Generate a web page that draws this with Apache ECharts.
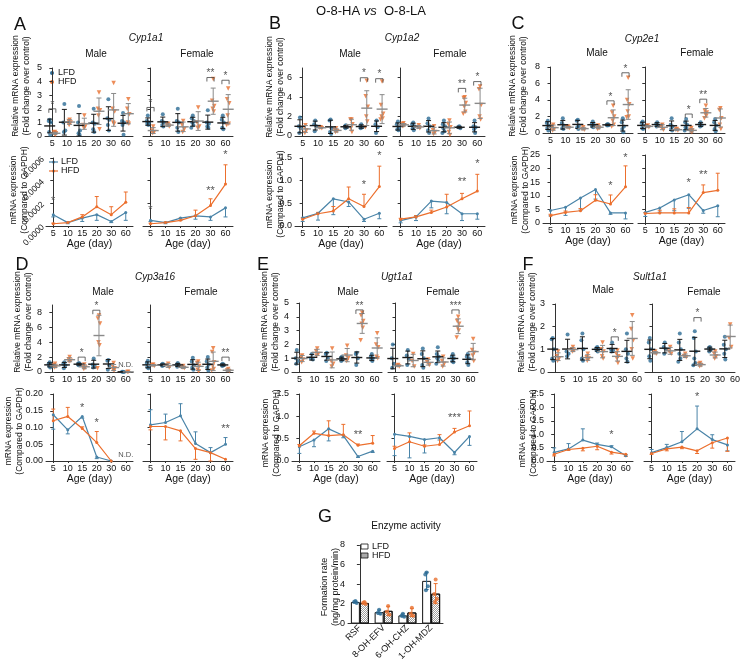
<!DOCTYPE html>
<html><head><meta charset="utf-8">
<script src="https://cdn.jsdelivr.net/npm/echarts@6/dist/echarts.min.js"></script>
<style>html,body{margin:0;padding:0;background:#fff}#c{width:743px;height:663px}</style>
</head><body><div id="c"></div>
<script>
// ---------------- DATA ----------------
const ages = ['5','10','15','20','30','60'];
// Relative mRNA expression (fold change), individual animals per age group
const A_M_LFD = [[1.2,1.1,1.0,0.3,0.1],[2.35,1.0,0.4,0.3],[2.2,1.0,0.4,0.2,0.1],[2.0,1.0,0.9,0.5,0.3],[2.7,1.3,1.2,0.8,0.4],[1.7,1.1,1.0,0.8,0.1]];
const A_M_HFD = [[0.3,0.25,0.2,0.15,0.1],[1.2,1.1,1.0,0.8],[1.5,0.8,0.7,0.6],[3.2,2.0,1.9,1.5,0.5],[3.9,2.0,1.8,1.0,0.9],[2.7,2.0,1.6,1.0,0.9]];
const A_F_LFD = [[1.5,1.1,1.0,0.9,0.8],[1.6,1.1,1.0,0.8,0.7],[2.0,1.1,1.0,0.6,0.3],[1.5,1.3,1.1,1.0,0.8,0.6],[1.9,1.0,0.9,0.7,0.6],[1.5,1.2,1.0,0.6,0.5]];
const A_F_HFD = [[0.7,0.4,0.3,0.2],[0.9,0.8,0.7],[1.1,0.8,0.5,0.3],[2.1,1.0,0.7,0.6],[4.2,2.6,2.2,2.0,1.8],[3.5,2.7,2.4,1.5,0.9,0.8]];
const B_M_LFD = [[1.9,1.0,0.8,0.3],[1.6,1.2,1.0,0.5],[1.7,1.6,0.8,0.4,0.2],[1.1,1.0,0.9,0.8],[1.2,1.0,0.9,0.8],[1.6,1.2,0.9,0.3]];
const B_M_HFD = [[1.1,0.9,0.6,0.3],[0.9,0.85,0.8],[0.8,0.6,0.5,0.4],[1.7,1.7,1.2,0.8,0.4],[5.7,4.1,3.0,2.0,1.5,0.9],[5.6,3.2,2.3,2.0,1.8,1.7]];
const B_F_LFD = [[1.5,1.2,0.9,0.7,0.6],[1.4,1.2,1.0,0.8,0.6],[1.8,1.3,1.0,0.6,0.3],[1.6,1.2,1.0,0.8,0.5,0.3],[1.0,0.9,0.8],[1.6,1.0,0.9,0.7,0.3]];
const B_F_HFD = [[1.3,1.2,1.1,1.0],[1.1,0.9,0.8],[1.0,0.6,0.4,0.2],[1.6,1.2,0.9,0.4,0.1],[4.0,3.9,3.4,3.0,2.5,2.3],[5.1,4.8,3.2,2.0,1.7]];
const C_M_LFD = [[1.5,1.2,0.9,0.6,0.3],[1.8,1.2,0.9,0.6,0.5],[1.6,1.5,0.9,0.7,0.5],[1.4,1.1,1.0,0.8,0.7],[1.1,1.0,0.95,0.9],[1.8,1.3,0.8,0.5,0.1]];
const C_M_HFD = [[1.0,0.8,0.5,0.3],[0.8,0.7,0.6],[0.7,0.5,0.4],[0.9,0.8,0.6,0.5],[3.3,2.5,2.0,1.5,1.0,0.8],[6.7,4.0,3.5,2.6,2.0,1.9]];
const C_F_LFD = [[1.4,1.2,0.9,0.6,0.5],[1.3,1.1,0.9,0.8],[1.8,1.0,0.8,0.5,0.3],[1.7,1.3,1.0,0.7,0.5,0.3],[1.3,1.1,0.9,0.8],[1.7,1.3,0.9,0.5,0.2]];
const C_F_HFD = [[0.9,0.8,0.7],[1.0,0.7,0.4],[0.5,0.4,0.3],[0.6,0.4,0.3,0.2,0.1],[3.3,2.7,2.5,2.3,2.1,1.8],[3.0,2.8,1.8,1.0,0.5]];
const D_M_LFD = [[1.3,1.1,1.0,0.8,0.6],[1.3,1.1,0.9,0.5],[1.2,1.1,1.0,0.9],[1.8,1.0,0.8,0.6],[1.6,1.5,0.9,0.3],[0.05,0.02,0]];
const D_M_HFD = [[1.1,0.9,0.7,0.6],[2.0,1.7,1.5,1.4],[1.0,0.8,0.6,0.4],[7.6,7.2,6.5,4.0,3.6,0.5],[1.2,0.8,0.5,0.3,0.2],[0.03,0]];
const D_F_LFD = [[1.5,1.2,0.9,0.7,0.5],[1.1,1.0,0.9,0.8],[1.2,1.0,0.9,0.7],[1.9,1.4,0.9,0.6,0.3],[2.0,1.4,1.0,0.6,0.2],[1.1,1.0,0.9,0.8]];
const D_F_HFD = [[1.0,0.9,0.8],[1.1,0.9,0.6],[0.8,0.6,0.5],[1.4,1.2,0.8,0.3,0.1],[3.2,2.7,1.3,0.8,0.4,0.2],[0.4,0.2,0.1]];
const E_M_LFD = [[1.6,1.0,0.8,0.6],[1.3,1.0,0.9],[1.4,1.3,1.0,0.8],[1.1,1.0,0.9,0.8],[1.4,1.3,1.0,0.5],[1.3,1.1,1.0,0.9,0.8]];
const E_M_HFD = [[1.2,1.1,0.9,0.7],[1.7,1.5,1.3,1.2],[1.7,0.8,0.6,0.4],[1.9,1.2,1.0,0.8],[4.3,4.1,3.7,3.5,3.2,2.3],[2.8,2.0,1.8,1.1,1.0]];
const E_F_LFD = [[2.0,1.0,0.6,0.3],[1.6,1.2,0.9,0.5],[1.7,1.3,1.0,0.5,0.3],[1.8,1.3,1.1,1.0,0.8,0.6],[1.3,1.1,1.0,0.8,0.7],[1.3,1.1,1.0,0.7,0.5]];
const E_F_HFD = [[0.5,0.45,0.4],[1.3,0.8,0.4],[0.9,0.7,0.5],[1.1,0.8,0.6,0.4],[4.0,3.7,3.5,3.2,3.0,2.5],[2.4,1.6,1.4,1.2,0.8]];
const F_M_LFD = [[1.5,1.45,1.0,0.6,0.5],[1.65,0.9,0.8,0.7],[1.7,1.4,1.0,0.6,0.5],[1.1,1.05,1.0,0.95,0.9],[1.3,1.0,0.95,0.9],[1.7,1.0,0.8,0.6,0.45]];
const F_M_HFD = [[0.9,0.7,0.6,0.5],[1.1,1.0,0.95,0.9],[0.8,0.65,0.6,0.5],[1.3,1.0,0.9,0.7,0.6],[0.95,0.8,0.7,0.6,0.4],[2.5,1.9,1.4,1.0,0.6]];
const F_F_LFD = [[1.5,1.3,1.0,0.7,0.5],[1.3,1.1,1.0,0.8],[1.7,1.3,1.0,0.8,0.6,0.45],[1.8,1.5,0.9,0.6,0.4,0.3],[1.1,1.05,1.0,0.9],[1.55,1.2,1.0,0.8,0.55]];
const F_F_HFD = [[0.9,0.85,0.8],[1.1,0.9,0.8],[0.8,0.7,0.65],[0.4,0.35,0.3,0.25],[0.9,0.8,0.7,0.6],[2.1,1.5,1.1]];

// Significance marks: [age index, level, label]
const A_M_sigT = [[0,2.0,'*']], A_F_sigT = [[0,2.1,'*'],[4,4.3,'**'],[5,4.1,'*']];
const B_M_sigT = [[4,6.0,'*'],[5,5.9,'*']], B_F_sigT = [[4,4.9,'**'],[5,5.6,'*']];
const C_M_sigT = [[4,3.9,'*'],[5,7.3,'*']], C_F_sigT = [[3,2.3,'*'],[4,4.1,'**']];
const D_M_sigT = [[2,2.0,'*'],[3,8.3,'*']], D_F_sigT = [[5,2.0,'**']];
const E_M_sigT = [[4,4.5,'**']], E_F_sigT = [[4,4.5,'***']];
const F_M_sigT = [[4,1.55,'*']], F_F_sigT = [[3,2.4,'*']];

// mRNA expression compared to GAPDH: group means and error (signed: + up, - down)
const A_M_LFD_m = [0.0001,0.00003,0.00007,0.0001,0.00004,0.00012], A_M_LFD_e = [-0.00002,-0.00001,-0.00003,-0.00005,-0.00001,-0.00007];
const A_M_HFD_m = [0.00002,0.00003,0.00008,0.00017,0.0001,0.00021], A_M_HFD_e = [0.000005,0.000005,0.00002,0.00009,0.00007,0.00009];
const A_F_LFD_m = [0.00005,0.00003,0.00007,0.00009,0.00008,0.00016], A_F_LFD_e = [-0.00001,-0.00001,-0.00002,-0.00003,-0.00003,-0.00008];
const A_F_HFD_m = [0.00002,0.00003,0.00005,0.00009,0.00018,0.00037], A_F_HFD_e = [0.000005,0.000005,0.00002,0.00005,0.00006,0.00017];
const B_M_LFD_m = [0.18,0.28,0.6,0.53,0.15,0.28], B_M_LFD_e = [-0.08,-0.15,-0.35,-0.1,-0.05,-0.12];
const B_M_HFD_m = [0.15,0.27,0.33,0.6,0.43,0.87], B_M_HFD_e = [0.03,0.03,0.1,0.26,0.27,0.45];
const B_F_LFD_m = [0.12,0.2,0.55,0.52,0.27,0.27], B_F_LFD_e = [-0.05,-0.08,-0.15,-0.25,-0.15,-0.12];
const B_F_HFD_m = [0.15,0.2,0.3,0.42,0.6,0.77], B_F_HFD_e = [0.02,0.03,0.05,0.28,0.12,0.37];
const C_M_LFD_m = [4.6,5.8,9.2,12.3,3.7,3.7], C_M_LFD_e = [-2,-3,-4.5,-3.5,-0.5,-2.2];
const C_M_HFD_m = [2.7,3.9,4.5,8.4,7.0,13.3], C_M_HFD_e = [0.5,0.5,0.8,2,3.3,7.7];
const C_F_LFD_m = [3.9,5.5,8.5,10.4,4.6,6.3], C_F_LFD_e = [-1.5,-1.5,-4,-5,-1,-4];
const C_F_HFD_m = [3.5,3.7,3.7,3.7,11.2,12], C_F_HFD_e = [0.3,1,1.5,2,2.8,6.3];
const D_M_LFD_m = [0.138,0.093,0.133,0.012,0,null], D_M_LFD_e = [-0.043,-0.012,-0.005,-0.005,0,0];
const D_M_HFD_m = [0.12,0.133,0.097,0.055,0,null], D_M_HFD_e = [0.035,0.027,0.005,0.033,0,0];
const D_F_LFD_m = [0.108,0.115,0.135,0.052,0.025,0.05], D_F_LFD_e = [0.045,0.025,0.036,0.035,0.015,0.02];
const D_F_HFD_m = [0.103,0.103,0.09,0.037,0.025,0.005], D_F_HFD_e = [-0.01,-0.04,-0.03,-0.032,-0.025,0];
const E_M_LFD_m = [0.32,0.47,0.72,0.57,0.1,0.22], E_M_LFD_e = [-0.15,-0.15,-0.27,-0.05,-0.02,-0.03];
const E_M_HFD_m = [0.34,0.62,0.57,0.59,0.35,0.4], E_M_HFD_e = [0.03,0.05,0.33,0.23,0.03,0.17];
const E_F_LFD_m = [0.6,0.55,0.48,0.52,0.19,0.55], E_F_LFD_e = [-0.48,-0.48,-0.3,-0.05,-0.05,-0.2];
const E_F_HFD_m = [0.28,0.43,0.33,0.37,0.65,0.79], E_F_HFD_e = [0.05,0.2,0.03,0.22,0.08,0.33];
const F_M_LFD_m = [0.32,0.45,0.78,0.62,0.53,0.2], F_M_LFD_e = [0.17,0.2,0.42,0.05,0.04,0.03];
const F_M_HFD_m = [0.25,0.43,0.48,0.55,0.33,0.25], F_M_HFD_e = [-0.06,-0.03,-0.1,-0.13,-0.07,-0.08];
const F_F_LFD_m = [0.31,0.5,0.72,1.2,0.8,0.6], F_F_LFD_e = [0.12,0.12,0.38,0.85,0.18,-0.22];
const F_F_HFD_m = [0.28,0.45,0.52,0.38,0.68,0.86], F_F_HFD_e = [-0.03,-0.07,-0.06,-0.1,-0.2,-0.5];

const A_M_sigB = [[0,0.00017,'*']], A_F_sigB = [[0,0.00009,'*'],[4,0.00026,'**'],[5,0.00058,'*']];
const B_M_sigB = [[4,0.78,'*'],[5,1.42,'*']], B_F_sigB = [[4,0.86,'**'],[5,1.25,'*']];
const C_M_sigB = [[4,11.5,'*'],[5,22,'*']], C_F_sigB = [[3,12.8,'*'],[4,15.5,'**']];
const D_M_sigB = [[2,0.143,'*'],[3,0.098,'*']], D_F_sigB = [[5,0.078,'**']];
const E_M_sigB = [[4,0.47,'**']], E_F_sigB = [[4,0.85,'***']];
const F_M_sigB = [[4,0.78,'*']], F_F_sigB = [[3,2.2,'*']];
const D_M_ndT = [[5,0.4,'N.D.']], D_M_ndB = [[5,0.006,'N.D.']];

// Enzyme activity (ng/mg protein/min)
const G_cats = ['RSF','8-OH-EFV','6-OH-CHZ','1-OH-MDZ'];
const G_LFD = [[2.3,2.2,2.1],[1.4,1.1,1.0],[1.0,0.8,0.7],[5.2,5.0,3.8,3.4]];
const G_HFD = [[2.2,2.1,2.0],[1.8,1.2,0.9],[1.6,1.0,0.8],[4.5,3.0,2.5,2.2]];

// ---------------- BUILD ----------------
const FONT = '"Liberation Sans", Arial, sans-serif';
const C_L = '#2c6b95', C_H = '#e8712f';
const CL_LINE = '#4a84a8', CH_LINE = '#ec6f2d';
const JIT = [0, -0.07, 0.07, -0.035, 0.035, -0.1, 0.1];
const grid = [], xAxis = [], yAxis = [], series = [], graphic = [];
const mean = a => a.reduce((s, v) => s + v, 0) / a.length;
const sd = a => { if (a.length < 2) return 0; const m = mean(a); return Math.sqrt(a.reduce((s, v) => s + (v - m) * (v - m), 0) / (a.length - 1)); };

function xCfg(g, shifted, ticks, name) {
  const vals = shifted ? [0.5, 1.5, 2.5, 3.5, 4.5, 5.5] : [0, 1, 2, 3, 4, 5];
  return { type: 'value', gridIndex: g, min: -0.5, max: 5.5,
    name: name || '', nameLocation: 'middle', nameGap: 11,
    nameTextStyle: { fontSize: 10.5, fontFamily: FONT, color: '#111' },
    axisLine: { show: true, onZero: false, lineStyle: { color: '#333', width: 1 } },
    axisTick: { show: ticks, customValues: vals, length: 2, lineStyle: { color: '#333' } },
    axisLabel: { show: true, customValues: vals, formatter: v => ages[Math.round(shifted ? v - 0.5 : v)], fontSize: 9, fontFamily: FONT, color: '#111', margin: 3 },
    splitLine: { show: false } };
}
function yCfg(g, yc, showLabel) {
  return { type: 'value', gridIndex: g, min: 0, max: yc.max,
    axisLine: { show: true, lineStyle: { color: '#333', width: 1 } },
    axisTick: { show: true, customValues: yc.ticks, length: 3, lineStyle: { color: '#333' } },
    axisLabel: { show: showLabel, customValues: yc.ticks, formatter: yc.fmt, rotate: yc.rot || 0, fontSize: yc.fs || 9, fontFamily: FONT, color: '#111', margin: 3 },
    splitLine: { show: false } };
}
function meanSdSeries(g, data) {
  return { type: 'custom', xAxisIndex: g, yAxisIndex: g, data, clip: false, z: 4, silent: true,
    renderItem: (p, api) => {
      const x = api.value(0), m = api.value(1), s = api.value(2), k = api.value(3);
      const c = api.coord([x, m]), t = api.coord([x, m + s]), b = api.coord([x, Math.max(0, m - s)]);
      const col = k === 0 ? '#1a1a1a' : '#8a8a8a';
      const st = { stroke: col, lineWidth: 1 };
      return { type: 'group', children: [
        { type: 'line', shape: { x1: c[0], y1: t[1], x2: c[0], y2: b[1] }, style: st },
        { type: 'line', shape: { x1: c[0] - 5.5, y1: c[1], x2: c[0] + 5.5, y2: c[1] }, style: { stroke: col, lineWidth: 1.4 } },
        { type: 'line', shape: { x1: c[0] - 2.5, y1: t[1], x2: c[0] + 2.5, y2: t[1] }, style: st },
        { type: 'line', shape: { x1: c[0] - 2.5, y1: b[1], x2: c[0] + 2.5, y2: b[1] }, style: st }
      ] };
    } };
}
function sigSeries(g, list, bracket, fs) {
  return { type: 'custom', xAxisIndex: g, yAxisIndex: g, clip: false, silent: true, z: 6,
    data: list.map(s => [s[0], s[1]]),
    renderItem: (p, api) => {
      const s = list[p.dataIndex];
      const c = api.coord([s[0], s[1]]);
      const ch = [];
      if (bracket) {
        const l = api.coord([s[0] - 0.24, s[1]])[0], r = api.coord([s[0] + 0.24, s[1]])[0];
        ch.push({ type: 'polyline', shape: { points: [[l, c[1] + 4], [l, c[1]], [r, c[1]], [r, c[1] + 4]] }, style: { stroke: '#444', fill: null, lineWidth: 0.8 } });
      }
      ch.push({ type: 'text', x: c[0], y: bracket ? c[1] + 1 : c[1], style: { text: s[2], align: 'center', verticalAlign: 'bottom', fontSize: fs || 10, fontFamily: FONT, fill: '#555' } });
      return { type: 'group', children: ch };
    } };
}
function errSeries(g, m, e, col) {
  const data = [];
  m.forEach((v, i) => { if (v != null && e[i]) data.push([i, v, e[i]]); });
  return { type: 'custom', xAxisIndex: g, yAxisIndex: g, data, clip: false, silent: true, z: 2,
    renderItem: (p, api) => {
      const x = api.value(0), v = api.value(1), er = api.value(2);
      const a = api.coord([x, v]), b = api.coord([x, Math.max(0, v + er)]);
      return { type: 'group', children: [
        { type: 'line', shape: { x1: a[0], y1: a[1], x2: b[0], y2: b[1] }, style: { stroke: col, lineWidth: 1 } },
        { type: 'line', shape: { x1: b[0] - 2, y1: b[1], x2: b[0] + 2, y2: b[1] }, style: { stroke: col, lineWidth: 1 } }
      ] };
    } };
}
function addScatter(r, lfd, hfd, sig, yc, showY, shifted, nd) {
  grid.push({ left: r[0], top: r[1], width: r[2], height: r[3] });
  const g = grid.length - 1;
  xAxis.push(xCfg(g, shifted, false, ''));
  yAxis.push(yCfg(g, yc, showY));
  const pts = (arr, off) => { const o = []; arr.forEach((grp, i) => grp.forEach((v, j) => o.push([i + off + JIT[j % JIT.length], v]))); return o; };
  series.push({ type: 'scatter', name: 'LFD', xAxisIndex: g, yAxisIndex: g, data: pts(lfd, -0.18), symbol: 'circle', symbolSize: 4, itemStyle: { color: C_L }, clip: false, z: 3, silent: true });
  series.push({ type: 'scatter', name: 'HFD', xAxisIndex: g, yAxisIndex: g, data: pts(hfd, 0.18), symbol: 'triangle', symbolRotate: 180, symbolSize: 4.5, itemStyle: { color: C_H }, clip: false, z: 3, silent: true });
  const st = (arr, off, k) => arr.map((grp, i) => [i + off, mean(grp), sd(grp), k]);
  series.push(meanSdSeries(g, st(lfd, -0.18, 0).concat(st(hfd, 0.18, 1))));
  if (sig) series.push(sigSeries(g, sig, true));
  if (nd) series.push(sigSeries(g, nd, false, 7.5));
}
function addLine(r, lM, lE, hM, hE, sig, yc, showY, nd) {
  grid.push({ left: r[0], top: r[1], width: r[2], height: r[3] });
  const g = grid.length - 1;
  xAxis.push(xCfg(g, false, true, 'Age (day)'));
  yAxis.push(yCfg(g, yc, showY));
  const d = m => m.map((v, i) => [i, v == null ? '-' : v]);
  series.push(errSeries(g, lM, lE, CL_LINE));
  series.push(errSeries(g, hM, hE, CH_LINE));
  series.push({ type: 'line', name: 'LFD', xAxisIndex: g, yAxisIndex: g, data: d(lM), symbol: 'circle', symbolSize: 3, lineStyle: { width: 1.2, color: CL_LINE }, itemStyle: { color: CL_LINE }, z: 3, silent: true, clip: false });
  series.push({ type: 'line', name: 'HFD', xAxisIndex: g, yAxisIndex: g, data: d(hM), symbol: 'circle', symbolSize: 3, lineStyle: { width: 1.2, color: CH_LINE }, itemStyle: { color: CH_LINE }, z: 3, silent: true, clip: false });
  if (sig) series.push(sigSeries(g, sig, false, 11));
  if (nd) series.push(sigSeries(g, nd, false, 7.5));
}
const f1 = v => v.toFixed(1), f0 = v => String(v), f2 = v => v.toFixed(2), f4 = v => v.toFixed(4);
const YT = {
  A: { max: 5, ticks: [0,1,2,3,4,5], fmt: f0 }, B: { max: 7, ticks: [0,2,4,6], fmt: f0 }, C: { max: 8, ticks: [0,2,4,6,8], fmt: f0 },
  D: { max: 9, ticks: [0,2,4,6,8], fmt: f0 }, E: { max: 5, ticks: [0,1,2,3,4,5], fmt: f0 }, F: { max: 3, ticks: [0,1,2,3], fmt: f0 }
};
const YB = {
  A: { max: 0.0006, ticks: [0,0.0002,0.0004,0.0006], fmt: f4, rot: 45, fs: 8.5 }, B: { max: 1.5, ticks: [0,0.5,1,1.5], fmt: f1 },
  C: { max: 25, ticks: [0,5,10,15,20,25], fmt: f0 }, D: { max: 0.2, ticks: [0,0.05,0.1,0.15,0.2], fmt: f2 },
  E: { max: 1.5, ticks: [0,0.5,1,1.5], fmt: f1 }, F: { max: 2.5, ticks: [0,0.5,1,1.5,2,2.5], fmt: f1 }
};
const LAY = {
  A: { tM: [45,68,88,68], tF: [143,68,90,68], bM: [46,158,87,68], bF: [143,158,90,68] },
  B: { tM: [295,68,92,68], tF: [393,68,92,68], bM: [295,158,92,68], bF: [393,158,92,68] },
  C: { tM: [543,67,90,66], tF: [638,67,87,66], bM: [543,155,90,68], bF: [638,155,87,68] },
  D: { tM: [45,305,88,67], tF: [143,305,90,67], bM: [46,394,87,67], bF: [143,394,90,67] },
  E: { tM: [292,303,90,69], tF: [388,303,90,69], bM: [292,394,88,67], bF: [387,394,90,67] },
  F: { tM: [548,304,89,68], tF: [645,304,90,68], bM: [547,394,86,67], bF: [644,394,91,67] }
};
const P = {
  A: [A_M_LFD,A_M_HFD,A_F_LFD,A_F_HFD,A_M_sigT,A_F_sigT,[A_M_LFD_m,A_M_LFD_e,A_M_HFD_m,A_M_HFD_e],[A_F_LFD_m,A_F_LFD_e,A_F_HFD_m,A_F_HFD_e],A_M_sigB,A_F_sigB],
  B: [B_M_LFD,B_M_HFD,B_F_LFD,B_F_HFD,B_M_sigT,B_F_sigT,[B_M_LFD_m,B_M_LFD_e,B_M_HFD_m,B_M_HFD_e],[B_F_LFD_m,B_F_LFD_e,B_F_HFD_m,B_F_HFD_e],B_M_sigB,B_F_sigB],
  C: [C_M_LFD,C_M_HFD,C_F_LFD,C_F_HFD,C_M_sigT,C_F_sigT,[C_M_LFD_m,C_M_LFD_e,C_M_HFD_m,C_M_HFD_e],[C_F_LFD_m,C_F_LFD_e,C_F_HFD_m,C_F_HFD_e],C_M_sigB,C_F_sigB],
  D: [D_M_LFD,D_M_HFD,D_F_LFD,D_F_HFD,D_M_sigT,D_F_sigT,[D_M_LFD_m,D_M_LFD_e,D_M_HFD_m,D_M_HFD_e],[D_F_LFD_m,D_F_LFD_e,D_F_HFD_m,D_F_HFD_e],D_M_sigB,D_F_sigB],
  E: [E_M_LFD,E_M_HFD,E_F_LFD,E_F_HFD,E_M_sigT,E_F_sigT,[E_M_LFD_m,E_M_LFD_e,E_M_HFD_m,E_M_HFD_e],[E_F_LFD_m,E_F_LFD_e,E_F_HFD_m,E_F_HFD_e],E_M_sigB,E_F_sigB],
  F: [F_M_LFD,F_M_HFD,F_F_LFD,F_F_HFD,F_M_sigT,F_F_sigT,[F_M_LFD_m,F_M_LFD_e,F_M_HFD_m,F_M_HFD_e],[F_F_LFD_m,F_F_LFD_e,F_F_HFD_m,F_F_HFD_e],F_M_sigB,F_F_sigB]
};
Object.keys(P).forEach(k => {
  const p = P[k], l = LAY[k], sh = k === 'F';
  addScatter(l.tM, p[0], p[1], p[4], YT[k], true, sh, k === 'D' ? D_M_ndT : null);
  addScatter(l.tF, p[2], p[3], p[5], YT[k], false, sh, null);
  addLine(l.bM, p[6][0], p[6][1], p[6][2], p[6][3], p[8], YB[k], true, k === 'D' ? D_M_ndB : null);
  addLine(l.bF, p[7][0], p[7][1], p[7][2], p[7][3], p[9], YB[k], false, null);
});

// ---- Panel G: enzyme activity ----
grid.push({ left: 348, top: 545, width: 95, height: 80 });
const gG = grid.length - 1;
xAxis.push({ type: 'category', gridIndex: gG, data: G_cats,
  axisLine: { lineStyle: { color: '#333' } }, axisTick: { show: false },
  axisLabel: { interval: 0, rotate: 45, fontSize: 9, fontFamily: FONT, color: '#111', margin: 3 } });
const xG = xAxis.length - 1;
xAxis.push({ type: 'value', gridIndex: gG, min: -0.5, max: 3.5, show: false });
const xGv = xAxis.length - 1;
yAxis.push({ type: 'value', gridIndex: gG, min: 0, max: 8, interval: 2,
  axisLine: { show: true, lineStyle: { color: '#333' } }, axisTick: { show: true, length: 3 },
  axisLabel: { fontSize: 9, fontFamily: FONT, color: '#111', margin: 3 }, splitLine: { show: false } });
const yG = yAxis.length - 1;
const hatch = { symbol: 'rect', symbolSize: 1, color: 'rgba(80,80,80,0.55)', dashArrayX: [[1, 1], [0, 1, 1, 0]], dashArrayY: [1, 0] };
series.push({ type: 'bar', name: 'LFD', xAxisIndex: xG, yAxisIndex: yG, data: G_LFD.map(mean), barWidth: 9, barGap: '0%',
  itemStyle: { color: '#fff', borderColor: '#111', borderWidth: 1 }, silent: true, z: 2 });
series.push({ type: 'bar', name: 'HFD', xAxisIndex: xG, yAxisIndex: yG, data: G_HFD.map(mean), barWidth: 9, barGap: '0%',
  itemStyle: { color: '#fff', borderColor: '#111', borderWidth: 1, decal: hatch }, silent: true, z: 2 });
const gPts = (arr, off) => { const o = []; arr.forEach((grp, i) => grp.forEach((v, j) => o.push([i + off + JIT[j % JIT.length] * 0.8, v]))); return o; };
series.push({ type: 'custom', xAxisIndex: xGv, yAxisIndex: yG, clip: false, silent: true, z: 3,
  data: G_LFD.map((g, i) => [i - 0.19, mean(g), sd(g), 0]).concat(G_HFD.map((g, i) => [i + 0.19, mean(g), sd(g), 1])),
  renderItem: (p, api) => {
    const x = api.value(0), m = api.value(1), s = api.value(2), k = api.value(3);
    const t = api.coord([x, m + s]), b = api.coord([x, Math.max(0, m - s)]);
    const col = k === 0 ? C_L : C_H;
    const st = { stroke: col, lineWidth: 1 };
    return { type: 'group', children: [
      { type: 'line', shape: { x1: t[0], y1: t[1], x2: b[0], y2: b[1] }, style: st },
      { type: 'line', shape: { x1: t[0] - 2, y1: t[1], x2: t[0] + 2, y2: t[1] }, style: st },
      { type: 'line', shape: { x1: b[0] - 2, y1: b[1], x2: b[0] + 2, y2: b[1] }, style: st }
    ] };
  } });
series.push({ type: 'scatter', xAxisIndex: xGv, yAxisIndex: yG, data: gPts(G_LFD, -0.19), symbol: 'circle', symbolSize: 4, itemStyle: { color: C_L }, silent: true, z: 4 });
series.push({ type: 'scatter', xAxisIndex: xGv, yAxisIndex: yG, data: gPts(G_HFD, 0.19), symbol: 'circle', symbolSize: 4, itemStyle: { color: C_H }, silent: true, z: 4 });

// ---- texts ----
function txt(x, y, text, o) {
  o = o || {};
  graphic.push({ type: 'text', x, y, rotation: o.rot || 0, silent: true, z: 10,
    style: { text, fontSize: o.fs || 10, fontFamily: FONT, fontStyle: o.it ? 'italic' : 'normal', fill: o.col || '#111',
      align: o.al || 'center', verticalAlign: 'middle', lineHeight: o.lh || undefined, rich: o.rich } });
}
txt(371, 11, '{n|O-8-HA }{i|vs}{n|  O-8-LA}', { rich: { n: { fontSize: 13, fontFamily: FONT, fill: '#111' }, i: { fontSize: 13, fontFamily: FONT, fontStyle: 'italic', fill: '#111' } } });
[['A',20,25],['B',275,24],['C',518,24],['D',22,265],['E',263,265],['F',528,265],['G',325,517]].forEach(a => txt(a[1], a[2], a[0], { fs: 18 }));
[['Cyp1a1',146,38],['Cyp1a2',402,38],['Cyp2e1',642,39],['Cyp3a16',155,277],['Ugt1a1',397,277],['Sult1a1',650,277]].forEach(a => txt(a[1], a[2], a[0], { fs: 10, it: true }));
[[96,54,'Male'],[197,54,'Female'],[350,54,'Male'],[450,54,'Female'],[597,53,'Male'],[697,53,'Female'],
 [103,292,'Male'],[201,292,'Female'],[348,292,'Male'],[443,292,'Female'],[603,290,'Male'],[704,292,'Female']].forEach(a => txt(a[0], a[1], a[2], { fs: 10 }));
const TOPN = 'Relative mRNA expression\n(Fold change over control)', BOTN = 'mRNA expression\n(Compared to GAPDH)';
[[21,86,TOPN],[19,190,BOTN],[275,87,TOPN],[275,194,BOTN],[518,86,TOPN],[520,190,BOTN],
 [23,322,TOPN],[14,431,BOTN],[270,322,TOPN],[271,433,BOTN],[527,322,TOPN],[528,433,BOTN]].forEach(a => txt(a[0], a[1], a[2], { fs: 8.5, rot: Math.PI / 2, lh: 11 }));
// legends in panel A
graphic.push({ type: 'circle', shape: { cx: 52, cy: 73, r: 2 }, style: { fill: C_L }, silent: true });
graphic.push({ type: 'circle', shape: { cx: 52, cy: 82, r: 2 }, style: { fill: C_H }, silent: true });
txt(58, 73, 'LFD', { fs: 9, al: 'left' }); txt(58, 82, 'HFD', { fs: 9, al: 'left' });
[[162, CL_LINE, 'LFD'], [171, CH_LINE, 'HFD']].forEach(a => {
  graphic.push({ type: 'line', shape: { x1: 49, y1: a[0], x2: 58, y2: a[0] }, style: { stroke: a[1], lineWidth: 1.2 }, silent: true });
  graphic.push({ type: 'circle', shape: { cx: 53.5, cy: a[0], r: 1.5 }, style: { fill: a[1] }, silent: true });
  txt(61, a[0], a[2], { fs: 9, al: 'left' });
});
// panel G texts and legend
txt(406, 526, 'Enzyme activity', { fs: 10 });
txt(330, 587, 'Formation rate\n(ng/mg protein/min)', { fs: 9, rot: Math.PI / 2, lh: 11 });
graphic.push({ type: 'rect', shape: { x: 361, y: 544, width: 7, height: 5 }, style: { fill: '#fff', stroke: '#111', lineWidth: 0.8 }, silent: true });
graphic.push({ type: 'rect', shape: { x: 361, y: 553, width: 7, height: 5 }, style: { fill: '#aaa', stroke: '#111', lineWidth: 0.8 }, silent: true });
txt(372, 546.5, 'LFD', { fs: 9, al: 'left' }); txt(372, 555.5, 'HFD', { fs: 9, al: 'left' });

const chart = echarts.init(document.getElementById('c'), null, { renderer: 'canvas' });
chart.setOption({ animation: false, backgroundColor: '#fff', textStyle: { fontFamily: FONT }, grid, xAxis, yAxis, series, graphic });
</script></body></html>
